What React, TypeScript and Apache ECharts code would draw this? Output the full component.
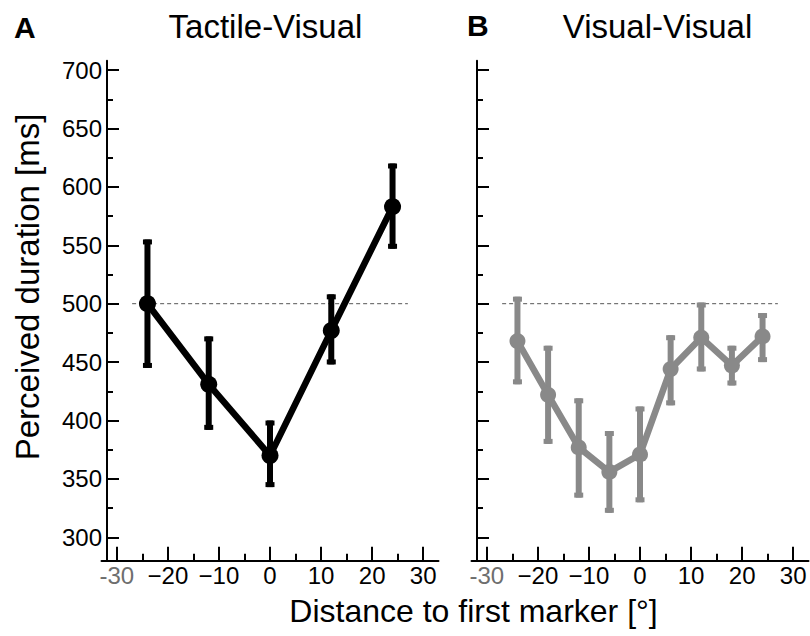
import React, { useEffect, useRef } from "react";
import * as echarts from "echarts";

// Panel A: Tactile-Visual
const tvX = [-24, -12, 0, 12, 24];
const tvMean = [500, 431, 370, 477, 583];
const tvLow = [445, 392, 343, 448, 547];
const tvHigh = [555, 472, 400, 508, 620];

// Panel B: Visual-Visual
const vvX = [-24, -18, -12, -6, 0, 6, 12, 18, 24];
const vvMean = [468, 422, 377, 356, 371, 444, 471, 447, 472];
const vvLow = [431, 380, 334, 321, 330, 413, 442, 430, 450];
const vvHigh = [506, 464, 419, 391, 412, 473, 501, 464, 492];

// Reference line (standard duration)
const refLine = [[-27, 500], [27, 500]];

// Ticks
const xMajor = [-30, -20, -10, 0, 10, 20, 30];
const xMinor = [-25, -15, -5, 5, 15, 25];
const yMajor = [300, 350, 400, 450, 500, 550, 600, 650, 700];
const yMinor = [325, 375, 425, 475, 525, 575, 625, 675];

const panelTitles = ["Tactile-Visual", "Visual-Visual"];
const panelLetters = ["A", "B"];
const yName = "Perceived duration [ms]";
const xName = "Distance to first marker [°]";

const FONT = "'Liberation Sans', Arial, Helvetica, sans-serif";
const TICK_FS = 24;

function xLabel(v: number) {
  if (v === -30) return "{g|-30}";
  if (v < 0) return "\u2212" + Math.abs(v);
  return String(v);
}

function makeAxes(gridIndex: number, offset: number, showYLabels: boolean) {
  const xAxes = [
    {
      type: "value",
      gridIndex,
      min: -33,
      max: 33,
      position: "bottom",
      axisLine: { show: true, onZero: false, lineStyle: { color: "#000", width: 2 } },
      axisTick: { show: true, inside: true, length: 14, customValues: xMajor, lineStyle: { color: "#000", width: 2 } },
      axisLabel: {
        show: true,
        customValues: xMajor,
        formatter: xLabel,
        fontSize: TICK_FS,
        fontFamily: FONT,
        color: "#000",
        margin: 3,
        rich: { g: { fontSize: TICK_FS, fontFamily: FONT, color: "#6e6e6e" } },
      },
      splitLine: { show: false },
    },
    {
      type: "value",
      gridIndex,
      min: -33,
      max: 33,
      position: "bottom",
      axisLine: { show: false, onZero: false },
      axisTick: { show: true, inside: true, length: 7, customValues: xMinor, lineStyle: { color: "#000", width: 2 } },
      axisLabel: { show: false },
      splitLine: { show: false },
    },
  ];
  const yAxes = [
    {
      type: "value",
      gridIndex,
      min: 280,
      max: 708,
      position: "left",
      offset,
      axisLine: { show: true, onZero: false, lineStyle: { color: "#000", width: 2 } },
      axisTick: { show: true, inside: true, length: 12, customValues: yMajor, lineStyle: { color: "#000", width: 2 } },
      axisLabel: {
        show: showYLabels,
        customValues: yMajor,
        fontSize: TICK_FS,
        fontFamily: FONT,
        color: "#000",
        margin: 5,
      },
      splitLine: { show: false },
    },
    {
      type: "value",
      gridIndex,
      min: 280,
      max: 708,
      position: "left",
      offset,
      axisLine: { show: false, onZero: false },
      axisTick: { show: true, inside: true, length: 6, customValues: yMinor, lineStyle: { color: "#000", width: 2 } },
      axisLabel: { show: false },
      splitLine: { show: false },
    },
  ];
  return { xAxes, yAxes };
}

function errorSeries(xs: number[], lo: number[], hi: number[], color: string, xi: number, yi: number) {
  return {
    type: "custom",
    xAxisIndex: xi,
    yAxisIndex: yi,
    z: 3,
    data: xs.map((x, i) => [x, lo[i], hi[i]]),
    renderItem: (params: any, api: any) => {
      const x = api.value(0);
      const top = api.coord([x, api.value(2)]);
      const bot = api.coord([x, api.value(1)]);
      const w = 6;
      const cw = 9;
      const ch = 5;
      return {
        type: "group",
        children: [
          { type: "rect", shape: { x: top[0] - w / 2, y: top[1], width: w, height: bot[1] - top[1] }, style: { fill: color } },
          { type: "rect", shape: { x: top[0] - cw / 2, y: top[1], width: cw, height: ch }, style: { fill: color } },
          { type: "rect", shape: { x: bot[0] - cw / 2, y: bot[1] - ch, width: cw, height: ch }, style: { fill: color } },
        ],
      };
    },
  };
}

function meanSeries(xs: number[], ys: number[], color: string, size: number, xi: number, yi: number) {
  return {
    type: "line",
    xAxisIndex: xi,
    yAxisIndex: yi,
    z: 4,
    data: xs.map((x, i) => [x, ys[i]]),
    symbol: "circle",
    symbolSize: size,
    itemStyle: { color },
    lineStyle: { color, width: 6.5 },
  };
}

function refSeries(xi: number, yi: number) {
  return {
    type: "line",
    xAxisIndex: xi,
    yAxisIndex: yi,
    z: 1,
    data: refLine,
    symbol: "none",
    lineStyle: { color: "#555", width: 1, type: [4, 3] },
  };
}

export default function App() {
  const ref = useRef<HTMLDivElement>(null);
  useEffect(() => {
    if (!ref.current) return;
    const chart = echarts.init(ref.current, undefined, { renderer: "svg" });
    const a = makeAxes(0, -5.5, true);
    const b = makeAxes(1, -5.5, false);
    const option: any = {
      animation: false,
      backgroundColor: "#fff",
      grid: [
        { left: 101.5, top: 60.7, width: 337, height: 500 },
        { left: 471.5, top: 60.7, width: 337, height: 500 },
      ],
      xAxis: [...a.xAxes, ...b.xAxes],
      yAxis: [...a.yAxes, ...b.yAxes],
      series: [
        refSeries(0, 0),
        errorSeries(tvX, tvLow, tvHigh, "#000", 0, 0),
        meanSeries(tvX, tvMean, "#000", 17, 0, 0),
        refSeries(2, 2),
        errorSeries(vvX, vvLow, vvHigh, "#898989", 2, 2),
        meanSeries(vvX, vvMean, "#898989", 16, 2, 2),
      ],
      graphic: [
        { type: "text", x: 14, y: 27, style: { text: panelLetters[0], font: `bold 30px ${FONT}`, fill: "#000", align: "left", verticalAlign: "middle", textAlign: "left", textVerticalAlign: "middle" } },
        { type: "text", x: 265.5, y: 26, style: { text: panelTitles[0], font: `33px ${FONT}`, fill: "#000", align: "center", verticalAlign: "middle", textAlign: "center", textVerticalAlign: "middle" } },
        { type: "text", x: 467, y: 25, style: { text: panelLetters[1], font: `bold 30px ${FONT}`, fill: "#000", align: "left", verticalAlign: "middle", textAlign: "left", textVerticalAlign: "middle" } },
        { type: "text", x: 657.5, y: 26, style: { text: panelTitles[1], font: `33px ${FONT}`, fill: "#000", align: "center", verticalAlign: "middle", textAlign: "center", textVerticalAlign: "middle" } },
        { type: "text", x: 27, y: 287, rotation: Math.PI / 2, style: { text: yName, font: `33px ${FONT}`, fill: "#000", align: "center", verticalAlign: "middle", textAlign: "center", textVerticalAlign: "middle" } },
        { type: "text", x: 473.5, y: 611, style: { text: xName, font: `32px ${FONT}`, fill: "#000", align: "center", verticalAlign: "middle", textAlign: "center", textVerticalAlign: "middle" } },
      ],
    };
    chart.setOption(option);
    return () => chart.dispose();
  }, []);
  return (
    <div
      ref={ref}
      style={{ position: "absolute", left: 0, top: 0, width: 810, height: 636, background: "#fff" }}
    />
  );
}
